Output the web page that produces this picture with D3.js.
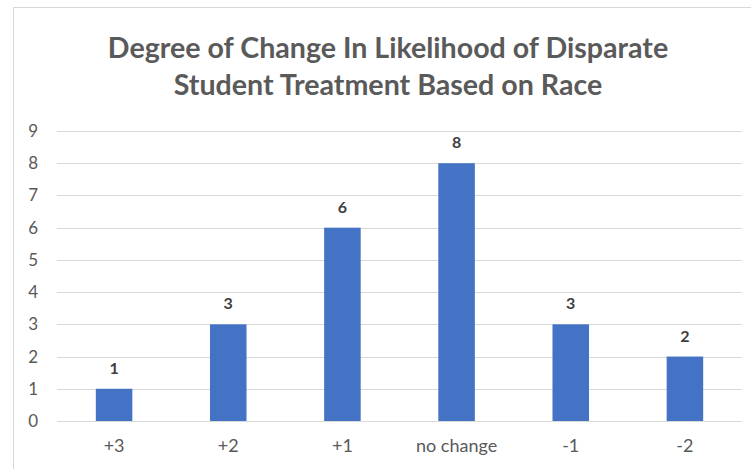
<!DOCTYPE html>
<html>
<head>
<meta charset="utf-8">
<script src="https://cdn.jsdelivr.net/npm/d3@7"></script>
<style>
  html, body { margin: 0; padding: 0; background: #fff; }
  svg { display: block; }
  text { font-family: Lato, "Open Sans", sans-serif; }
</style>
</head>
<body>
<svg id="chart" width="751" height="469"></svg>
<script>
// Responses per degree of change
const categories = ["+3", "+2", "+1", "no change", "-1", "-2"];
const counts = [1, 3, 6, 8, 3, 2];
const yTicks = [0, 1, 2, 3, 4, 5, 6, 7, 8, 9];
const titleLines = [
  "Degree of Change In Likelihood of Disparate",
  "Student Treatment Based on Race"
];

const width = 751, height = 469;
const margin = { top: 131, right: 9, bottom: 48, left: 57 };
const font = "Lato, 'Open Sans', sans-serif";

const svg = d3.select("#chart");

// Chart frame
svg.append("rect")
  .attr("x", 13.5).attr("y", 7.5)
  .attr("width", width + 10).attr("height", height + 10)
  .attr("fill", "#fff")
  .attr("stroke", "#d9d9d9");

// Title
svg.append("g")
  .selectAll("text")
  .data(titleLines)
  .join("text")
  .attr("x", 388)
  .attr("y", (d, i) => 58 + i * 37)
  .attr("text-anchor", "middle")
  .attr("font-size", 28.6)
  .attr("font-weight", 700)
  .attr("fill", "#5a5a5a")
  .text(d => d);

const x = d3.scaleBand()
  .domain(categories)
  .range([margin.left, width - margin.right])
  .paddingInner(0.68)
  .paddingOuter(0.34);

const y = d3.scaleLinear()
  .domain([0, 9])
  .range([height - margin.bottom, margin.top]);

// Gridlines
svg.append("g")
  .selectAll("line")
  .data(yTicks)
  .join("line")
  .attr("x1", margin.left)
  .attr("x2", width - margin.right)
  .attr("y1", d => Math.round(y(d)) + 0.5)
  .attr("y2", d => Math.round(y(d)) + 0.5)
  .attr("stroke", "#d9d9d9")
  .attr("stroke-width", 1);

// Y axis labels
const yAxis = d3.axisLeft(y).tickValues(yTicks).tickSize(0).tickPadding(0).tickFormat(d3.format("d"));
svg.append("g")
  .attr("transform", `translate(38,0)`)
  .call(yAxis)
  .call(g => g.select(".domain").remove())
  .call(g => g.selectAll("text")
    .attr("font-size", 17)
    .attr("fill", "#595959")
    .style("font-family", font));

// X axis labels
const xAxis = d3.axisBottom(x).tickSize(0).tickPadding(0);
svg.append("g")
  .attr("transform", `translate(0,${height - margin.bottom + 18})`)
  .call(xAxis)
  .call(g => g.select(".domain").remove())
  .call(g => g.selectAll("text")
    .attr("font-size", 18)
    .attr("fill", "#595959")
    .style("font-family", font));

// Bars
svg.append("g")
  .selectAll("rect")
  .data(categories.map((c, i) => ({ c, v: counts[i] })))
  .join("rect")
  .attr("x", d => x(d.c))
  .attr("y", d => y(d.v))
  .attr("width", x.bandwidth())
  .attr("height", d => y(0) - y(d.v))
  .attr("fill", "#4472c4");

// Value labels
svg.append("g")
  .selectAll("text")
  .data(categories.map((c, i) => ({ c, v: counts[i] })))
  .join("text")
  .attr("x", d => x(d.c) + x.bandwidth() / 2)
  .attr("y", d => y(d.v) - 15)
  .attr("text-anchor", "middle")
  .attr("font-size", 16)
  .attr("font-weight", 700)
  .attr("fill", "#404040")
  .text(d => d.v);
</script>
</body>
</html>
